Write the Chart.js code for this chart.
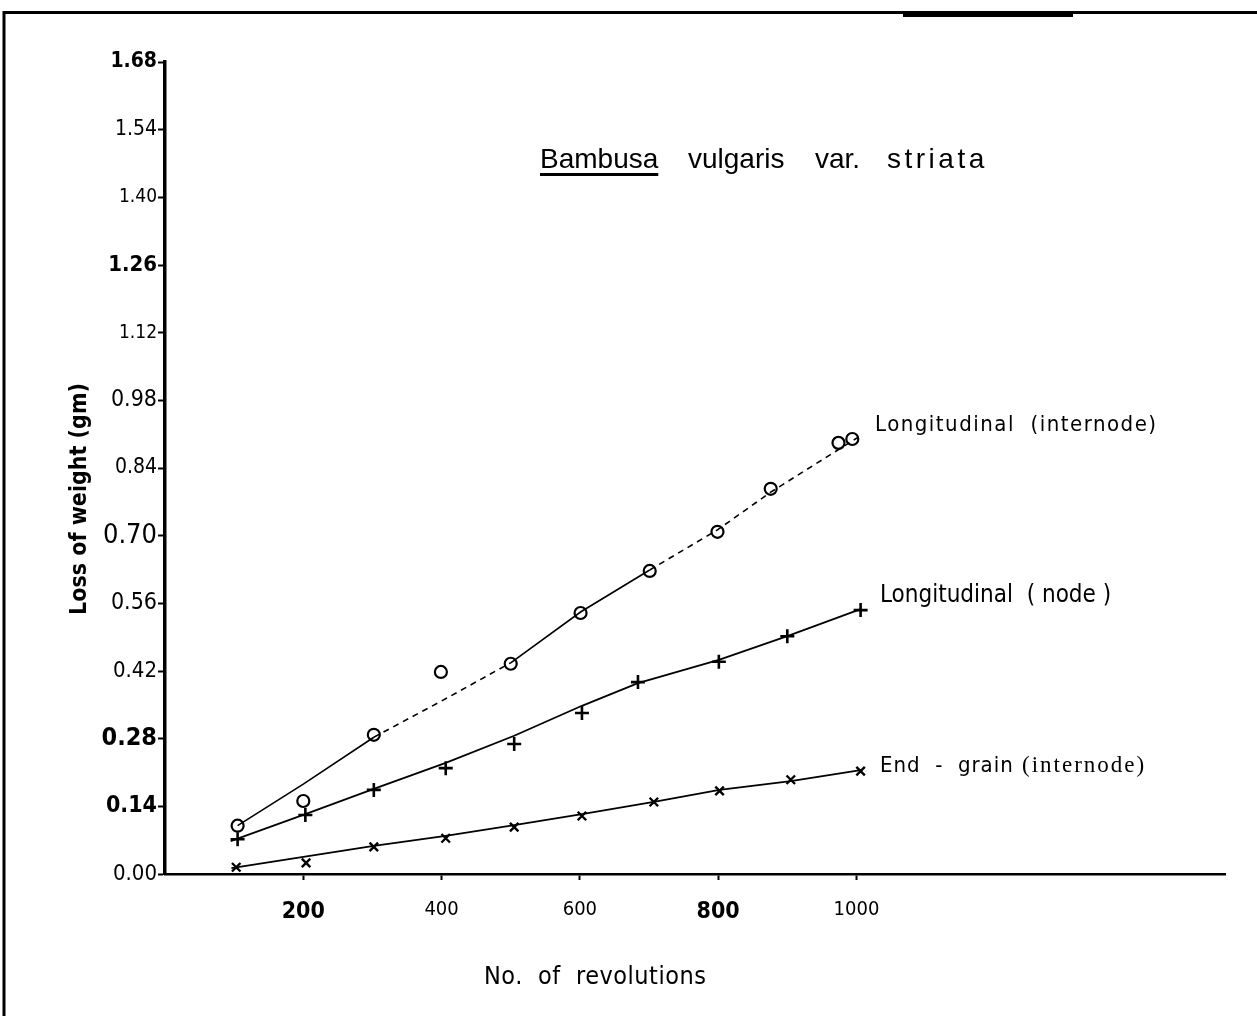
<!DOCTYPE html>
<html>
<head>
<meta charset="utf-8">
<script src="https://cdn.jsdelivr.net/npm/chart.js@4.4.1/dist/chart.umd.min.js"></script>
<style>
  html, body { margin: 0; padding: 0; background: #fff; }
  #wrap { width: 1257px; height: 1016px; position: relative; }
</style>
</head>
<body>
<div id="wrap"><canvas id="c" width="1257" height="1016"></canvas></div>
<script>
// ---- data ----
const xTicks = [200, 400, 600, 800, 1000];
const yTicks = [0.00, 0.14, 0.28, 0.42, 0.56, 0.70, 0.84, 0.98, 1.12, 1.26, 1.40, 1.54, 1.68];

// Longitudinal (internode) - circles
const internodeX = [105, 200, 302, 399, 500, 601, 701, 799, 876, 974, 994];
const internodeY = [0.100, 0.151, 0.288, 0.418, 0.435, 0.540, 0.627, 0.708, 0.797, 0.892, 0.900];
// Longitudinal (node) - plus
const nodeX = [105, 203, 302, 406, 505, 603, 684, 801, 900, 1006];
const nodeY = [0.072, 0.122, 0.174, 0.219, 0.269, 0.333, 0.397, 0.439, 0.492, 0.546];
// End-grain (internode) - x
const endX = [103, 204, 302, 406, 505, 603, 707, 802, 905, 1006];
const endY = [0.014, 0.023, 0.056, 0.074, 0.097, 0.120, 0.149, 0.172, 0.195, 0.213];

// fitted lines drawn through the points
const fitInternodeX = [105, 200, 302, 400, 500, 601, 701, 799, 876, 1005];
const fitInternodeY = [0.100, 0.186, 0.283, 0.358, 0.437, 0.542, 0.629, 0.712, 0.790, 0.906];
const fitNodeX = [95, 203, 302, 406, 505, 603, 684, 801, 900, 1006];
const fitNodeY = [0.068, 0.124, 0.176, 0.230, 0.286, 0.348, 0.395, 0.443, 0.492, 0.548];
const fitEndX = [96, 302, 406, 505, 603, 707, 802, 905, 1006];
const fitEndY = [0.012, 0.058, 0.079, 0.101, 0.124, 0.149, 0.174, 0.192, 0.215];

const toPts = (xs, ys) => xs.map((x, i) => ({ x: x, y: ys[i] }));

// ---- styling ----
const NARROW = '"DejaVu Sans Condensed", "Liberation Sans Narrow", "Liberation Sans", Arial, sans-serif';
const yFontSizes = [22, 23, 25, 22, 23, 27, 21, 23, 19, 22, 19, 21, 21];
const yFontBold  = [false, true, true, false, false, false, false, false, false, true, false, false, true];
const dashedInternodeSegs = [2, 3, 6, 7, 8];

const textPlugin = {
  id: 'annot',
  afterDraw(chart) {
    const ctx = chart.ctx;
    ctx.save();
    ctx.fillStyle = '#000';
    ctx.strokeStyle = '#000';
    // frame
    ctx.lineWidth = 3;
    ctx.beginPath();
    ctx.moveTo(4, 1016); ctx.lineTo(4, 12.5); ctx.lineTo(1257, 12.5);
    ctx.stroke();
    ctx.fillRect(903, 12, 170, 5);

    ctx.textBaseline = 'alphabetic';
    ctx.textAlign = 'left';

    // title
    ctx.font = '28px "Liberation Sans", Arial, sans-serif';
    ctx.letterSpacing = '0px';
    ctx.fillText('Bambusa', 540, 168);
    const bw = ctx.measureText('Bambusa').width;
    ctx.fillRect(540, 173, bw, 3);
    ctx.fillText('vulgaris', 688, 168);
    ctx.fillText('var.', 815, 168);
    ctx.letterSpacing = '3.5px';
    ctx.fillText('striata', 887, 168);

    // series labels
    ctx.font = '22px ' + NARROW;
    ctx.letterSpacing = '1.5px';
    ctx.fillText('Longitudinal  (internode)', 875, 431);
    ctx.font = '24px ' + NARROW;
    ctx.letterSpacing = '0px';
    ctx.fillText('Longitudinal  ( node )', 880, 602);
    ctx.font = '22px ' + NARROW;
    ctx.letterSpacing = '1px';
    ctx.fillText('End  -  grain', 880, 772);
    ctx.font = '23px "Liberation Serif", "DejaVu Serif", serif';
    ctx.letterSpacing = '2px';
    ctx.fillText('(internode)', 1022, 772);

    // x axis title
    ctx.font = '25px ' + NARROW;
    ctx.letterSpacing = '0.5px';
    ctx.fillText('No.  of  revolutions', 484, 984);
    ctx.letterSpacing = '0px';

    // y axis title
    ctx.save();
    ctx.translate(86, 499);
    ctx.rotate(-Math.PI / 2);
    ctx.textAlign = 'center';
    ctx.font = 'bold 23px ' + NARROW;
    ctx.fillText('Loss of weight (gm)', 0, 0);
    ctx.restore();
    ctx.restore();
  }
};

new Chart(document.getElementById('c'), {
  type: 'scatter',
  data: {
    datasets: [
      { label: 'fit internode', data: toPts(fitInternodeX, fitInternodeY), showLine: true,
        borderColor: '#000', borderWidth: 1.6, pointRadius: 0,
        segment: { borderDash: c => dashedInternodeSegs.includes(c.p0DataIndex) ? [6, 5] : undefined } },
      { label: 'fit node', data: toPts(fitNodeX, fitNodeY), showLine: true,
        borderColor: '#000', borderWidth: 1.8, pointRadius: 0 },
      { label: 'fit end', data: toPts(fitEndX, fitEndY), showLine: true,
        borderColor: '#000', borderWidth: 1.8, pointRadius: 0 },
      { label: 'Longitudinal (internode)', data: toPts(internodeX, internodeY),
        pointStyle: 'circle', pointRadius: 6, pointBorderWidth: 2.2,
        pointBackgroundColor: '#fff', pointBorderColor: '#000' },
      { label: 'Longitudinal (node)', data: toPts(nodeX, nodeY),
        pointStyle: 'cross', pointRadius: 7, pointBorderWidth: 2.6,
        pointBorderColor: '#000' },
      { label: 'End-grain (internode)', data: toPts(endX, endY),
        pointStyle: 'crossRot', pointRadius: 6, pointBorderWidth: 2.4,
        pointBorderColor: '#000' }
    ]
  },
  options: {
    responsive: false,
    devicePixelRatio: 1,
    animation: false,
    events: [],
    layout: { padding: { left: 100, right: 32, top: 62, bottom: 82 } },
    plugins: { legend: { display: false }, tooltip: { enabled: false }, title: { display: false } },
    scales: {
      x: {
        type: 'linear', min: 0, max: 1533,
        afterBuildTicks: axis => { axis.ticks = xTicks.map(v => ({ value: v })); },
        afterFit: scale => { scale.height = 60; },
        border: { display: true, color: '#000', width: 2.5 },
        grid: { drawOnChartArea: false, drawTicks: true, tickLength: 6, tickWidth: 2, color: '#000' },
        ticks: {
          color: '#000', padding: 18, maxRotation: 0, autoSkip: false,
          font: c => ({ family: NARROW, size: (c.tick && (c.tick.value === 200 || c.tick.value === 800)) ? 23 : 20,
                        weight: (c.tick && (c.tick.value === 200 || c.tick.value === 800)) ? 'bold' : 'normal' }),
          callback: v => String(v)
        }
      },
      y: {
        type: 'linear', min: 0, max: 1.68,
        afterBuildTicks: axis => { axis.ticks = yTicks.map(v => ({ value: v })); },
        afterFit: scale => { scale.width = 65; },
        border: { display: true, color: '#000', width: 3.5 },
        grid: { drawOnChartArea: false, drawTicks: true, tickLength: 7, tickWidth: 2, color: '#000' },
        ticks: {
          color: '#000', padding: 1, autoSkip: false,
          font: c => ({ family: NARROW, size: yFontSizes[c.index] || 18, weight: yFontBold[c.index] ? 'bold' : 'normal' }),
          callback: v => Number(v).toFixed(2)
        }
      }
    }
  },
  plugins: [textPlugin]
});
</script>
</body>
</html>
